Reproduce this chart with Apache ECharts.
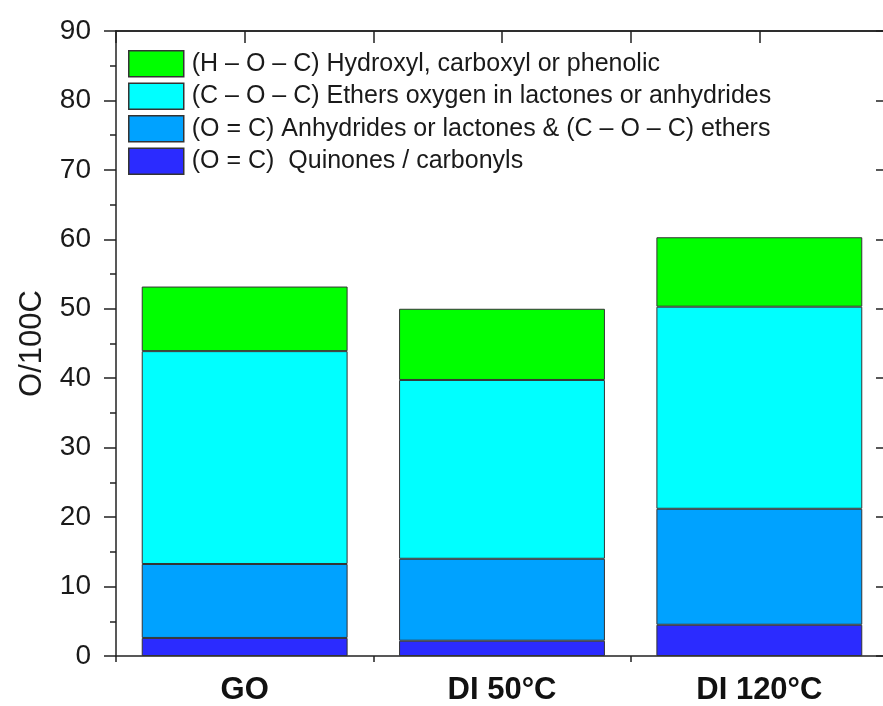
<!DOCTYPE html>
<html>
<head>
<meta charset="utf-8">
<script src="https://cdn.jsdelivr.net/npm/echarts@6/dist/echarts.min.js"></script>
<style>
	html, body { margin: 0; padding: 0; background: #fff; overflow: hidden; }
	/* the plot frame runs a little past the right edge of the picture */
	#chart { width: 900px; height: 706px; }
</style>
</head>
<body>
<div id="chart"></div>
<script>
const categories = ['GO', 'DI 50°C', 'DI 120°C']

// stacked pieces, bottom to top
const quinones = [2.6, 2.2, 4.5]
const anhydrides = [10.65, 11.8, 16.7]
const ethers = [30.65, 25.75, 29.1]
const hydroxyl = [9.3, 10.25, 10.0]

const seriesNames = [
	'(O = C)  Quinones / carbonyls',
	'(O = C) Anhydrides or lactones & (C – O – C) ethers',
	'(C – O – C) Ethers oxygen in lactones or anhydrides',
	'(H – O – C) Hydroxyl, carboxyl or phenolic'
]
const seriesColors = ['#2b2bff', '#00a2ff', '#00ffff', '#00ff00']
const seriesValues = [quinones, anhydrides, ethers, hydroxyl]

const font = "'Liberation Sans', Arial, sans-serif"
const lineColor = '#222'

const chart = echarts.init(document.getElementById('chart'))

const hiddenCat = (position, alignWithLabel, inside, length) => ({
	type: 'category',
	data: categories,
	position: position,
	axisLine: { show: position === 'top', lineStyle: { color: lineColor, width: 1.5 } },
	axisLabel: { show: false },
	axisTick: { show: true, alignWithLabel: alignWithLabel, inside: inside, length: length, lineStyle: { color: lineColor, width: 1.5 } },
	splitLine: { show: false }
})

const option = {
	animation: false,
	textStyle: { fontFamily: font },
	grid: { left: 116, right: 12, top: 31, bottom: 49 },
	legend: {
		orient: 'vertical',
		left: 123,
		top: 45,
		itemWidth: 55,
		itemHeight: 26,
		itemGap: 5,
		icon: 'rect',
		data: seriesNames.slice().reverse(),
		itemStyle: { borderColor: '#333', borderWidth: 1.5 },
		textStyle: { fontSize: 25, color: '#1a1a1a', fontFamily: font, padding: [0, 0, 0, 3] }
	},
	xAxis: [
		{
			type: 'category',
			data: categories,
			position: 'bottom',
			axisLine: { lineStyle: { color: lineColor, width: 1.5 } },
			axisTick: { alignWithLabel: true, length: 11, lineStyle: { color: lineColor, width: 1.5 } },
			axisLabel: { fontSize: 31, fontWeight: 'bold', color: '#111', margin: 19, fontFamily: font }
		},
		hiddenCat('bottom', false, false, 6),
		hiddenCat('top', true, true, 12),
		hiddenCat('top', false, true, 12)
	],
	yAxis: [
		{
			type: 'value',
			min: 0,
			max: 90,
			interval: 10,
			position: 'left',
			name: 'O/100C',
			nameLocation: 'middle',
			nameRotate: 90,
			nameGap: 68,
			nameTextStyle: { fontSize: 31, color: '#1a1a1a', fontFamily: font },
			axisLine: { show: true, lineStyle: { color: lineColor, width: 1.5 } },
			axisTick: { show: true, length: 12, lineStyle: { color: lineColor, width: 1.5 } },
			minorTick: { show: true, splitNumber: 2, length: 6, lineStyle: { color: lineColor, width: 1.5 } },
			axisLabel: { fontSize: 28, color: '#1a1a1a', margin: 25, fontFamily: font },
			splitLine: { show: false }
		},
		{
			type: 'value',
			min: 0,
			max: 90,
			interval: 10,
			position: 'right',
			axisLine: { show: true, lineStyle: { color: lineColor, width: 1.5 } },
			axisTick: { show: true, inside: true, length: 12, lineStyle: { color: lineColor, width: 1.5 } },
			axisLabel: { show: false },
			splitLine: { show: false }
		}
	],
	series: seriesValues.map((vals, i) => ({
		name: seriesNames[i],
		type: 'bar',
		stack: 'total',
		barWidth: '80%',
		data: vals,
		itemStyle: { color: seriesColors[i], borderColor: '#333', borderWidth: 1 }
	}))
}

chart.setOption(option)
</script>
</body>
</html>
